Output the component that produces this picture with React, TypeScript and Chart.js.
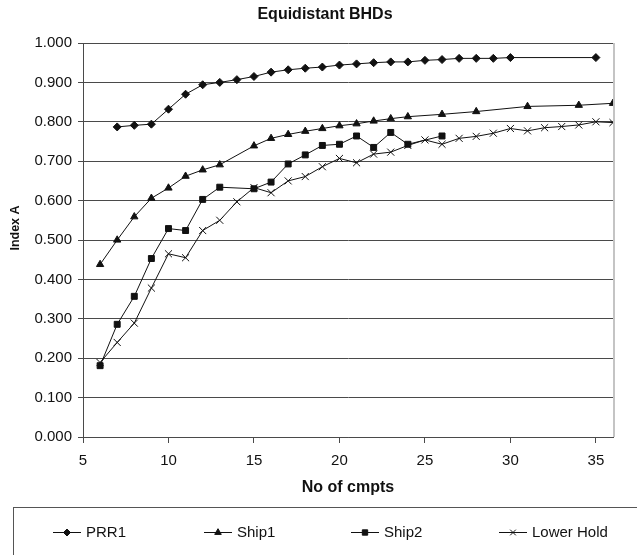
import React, { useEffect, useRef } from 'react';
import { Chart, registerables } from 'chart.js';
import { drawPoint } from 'chart.js/helpers';

Chart.register(...registerables);

const chartTitle = 'Equidistant BHDs';
const xTitle = 'No of cmpts';
const yTitle = 'Index A';
const xTicks = [5, 10, 15, 20, 25, 30, 35];
const yTicks = [0, 0.1, 0.2, 0.3, 0.4, 0.5, 0.6, 0.7, 0.8, 0.9, 1.0];

const prr1X = [7, 8, 9, 10, 11, 12, 13, 14, 15, 16, 17, 18, 19, 20, 21, 22, 23, 24, 25, 26, 27, 28, 29, 30, 35];
const prr1Y = [0.787, 0.791, 0.794, 0.832, 0.870, 0.894, 0.900, 0.907, 0.915, 0.926, 0.932, 0.936, 0.939, 0.944, 0.947, 0.950, 0.952, 0.952, 0.956, 0.958, 0.961, 0.961, 0.961, 0.963, 0.963];

const ship1X = [6, 7, 8, 9, 10, 11, 12, 13, 15, 16, 17, 18, 19, 20, 21, 22, 23, 24, 26, 28, 31, 34, 36];
const ship1Y = [0.438, 0.500, 0.559, 0.606, 0.632, 0.662, 0.678, 0.691, 0.739, 0.758, 0.768, 0.776, 0.783, 0.790, 0.795, 0.802, 0.808, 0.813, 0.819, 0.826, 0.839, 0.842, 0.847];

const ship2X = [6, 7, 8, 9, 10, 11, 12, 13, 15, 16, 17, 18, 19, 20, 21, 22, 23, 24, 26];
const ship2Y = [0.181, 0.286, 0.357, 0.453, 0.529, 0.524, 0.603, 0.634, 0.630, 0.647, 0.693, 0.716, 0.740, 0.743, 0.764, 0.735, 0.773, 0.743, 0.764];

const lowerHoldX = [6, 7, 8, 9, 10, 11, 12, 13, 14, 15, 16, 17, 18, 19, 20, 21, 22, 23, 24, 25, 26, 27, 28, 29, 30, 31, 32, 33, 34, 35, 36];
const lowerHoldY = [0.189, 0.240, 0.289, 0.378, 0.465, 0.455, 0.524, 0.550, 0.597, 0.633, 0.620, 0.650, 0.661, 0.686, 0.707, 0.696, 0.718, 0.723, 0.740, 0.754, 0.743, 0.758, 0.763, 0.771, 0.783, 0.777, 0.785, 0.788, 0.792, 0.800, 0.798];

const seriesNames = ['PRR1', 'Ship1', 'Ship2', 'Lower Hold'];

const FONT = "'Liberation Sans', Arial, sans-serif";
const INK = '#111';
const GRID = '#4a4a4a';

const toPts = (xs: number[], ys: number[]) => xs.map((x, i) => ({ x, y: ys[i] }));

const styles = [
  { pointStyle: 'rectRot', radius: 4, legendRadius: 3.5 },
  { pointStyle: 'triangle', radius: 4.2, legendRadius: 3.8 },
  { pointStyle: 'rect', radius: 4.2, legendRadius: 3.8 },
  { pointStyle: 'crossRot', radius: 5, legendRadius: 4 },
];

const decorPlugin = {
  id: 'decor',
  afterDraw(chart: any) {
    const { ctx, chartArea } = chart;
    ctx.save();

    // right plot border
    ctx.strokeStyle = '#c4c4c4';
    ctx.lineWidth = 2;
    ctx.beginPath();
    ctx.moveTo(chartArea.right + 1, chartArea.top);
    ctx.lineTo(chartArea.right + 1, chartArea.bottom);
    ctx.stroke();

    // chart title
    ctx.fillStyle = INK;
    ctx.font = `bold 16px ${FONT}`;
    ctx.textAlign = 'center';
    ctx.textBaseline = 'middle';
    ctx.fillText(chartTitle, 325, 15);

    // y axis title
    ctx.save();
    ctx.translate(16, 228);
    ctx.rotate(-Math.PI / 2);
    ctx.font = `bold 12.5px ${FONT}`;
    ctx.fillText(yTitle, 0, 0);
    ctx.restore();

    // legend box
    ctx.strokeStyle = '#555';
    ctx.lineWidth = 1;
    ctx.strokeRect(13.5, 507.5, 640, 80);
    const starts = [53, 204, 351, 499];
    const ly = 532;
    ctx.font = `15px ${FONT}`;
    ctx.textAlign = 'left';
    chart.data.datasets.forEach((ds: any, i: number) => {
      const x0 = starts[i];
      ctx.strokeStyle = INK;
      ctx.lineWidth = 1;
      ctx.beginPath();
      ctx.moveTo(x0, ly + 0.5);
      ctx.lineTo(x0 + 28, ly + 0.5);
      ctx.stroke();
      ctx.fillStyle = INK;
      drawPoint(ctx, { pointStyle: styles[i].pointStyle, radius: styles[i].legendRadius, borderWidth: 1, rotation: 0 } as any, x0 + 14, ly + 0.5);
      ctx.fillStyle = INK;
      ctx.fillText(ds.label, x0 + 33, ly + 1);
    });
    ctx.restore();
  },
};

export default function App() {
  const ref = useRef<HTMLCanvasElement>(null);
  useEffect(() => {
    const canvas = ref.current!;
    const seriesX = [prr1X, ship1X, ship2X, lowerHoldX];
    const seriesY = [prr1Y, ship1Y, ship2Y, lowerHoldY];
    const chart = new Chart(canvas, {
      type: 'line',
      data: {
        datasets: seriesNames.map((name, i) => ({
          label: name,
          data: toPts(seriesX[i], seriesY[i]),
          borderColor: INK,
          backgroundColor: INK,
          borderWidth: 1,
          pointStyle: styles[i].pointStyle as any,
          pointRadius: styles[i].radius,
          pointBorderWidth: 1,
          pointBackgroundColor: INK,
          pointBorderColor: INK,
          tension: 0,
          fill: false,
        })),
      },
      options: {
        responsive: false,
        animation: false,
        events: [],
        layout: { padding: { top: 43, right: 24, bottom: 54, left: 0 } },
        plugins: { legend: { display: false }, title: { display: false }, tooltip: { enabled: false } },
        scales: {
          x: {
            type: 'linear',
            min: 5,
            max: 36,
            afterBuildTicks: (s: any) => { s.ticks = xTicks.map((v) => ({ value: v })); },
            afterFit: (s: any) => { s.height = 64; },
            grid: { display: true, drawOnChartArea: false, drawTicks: true, tickLength: 6, color: GRID },
            border: { display: true, color: GRID, width: 1 },
            ticks: { color: INK, font: { family: FONT, size: 15 }, padding: 9, maxRotation: 0, callback: (v: any) => String(v) },
            title: { display: true, text: xTitle, color: INK, font: { family: FONT, size: 16, weight: 'bold' }, padding: { top: 0, bottom: 4 } },
          },
          y: {
            type: 'linear',
            min: 0,
            max: 1,
            afterBuildTicks: (s: any) => { s.ticks = yTicks.map((v) => ({ value: v })); },
            afterFit: (s: any) => { s.width = 83; },
            grid: { display: true, drawTicks: true, tickLength: 5, color: GRID },
            border: { display: true, color: GRID, width: 1 },
            ticks: { color: INK, font: { family: FONT, size: 15 }, padding: 6, callback: (v: any) => Number(v).toFixed(3) },
          },
        },
      },
      plugins: [decorPlugin],
    });
    return () => chart.destroy();
  }, []);
  return (
    <div style={{ position: 'fixed', left: 0, top: 0, width: 637, height: 555, background: '#fff' }}>
      <canvas ref={ref} width={637} height={555} />
    </div>
  );
}
